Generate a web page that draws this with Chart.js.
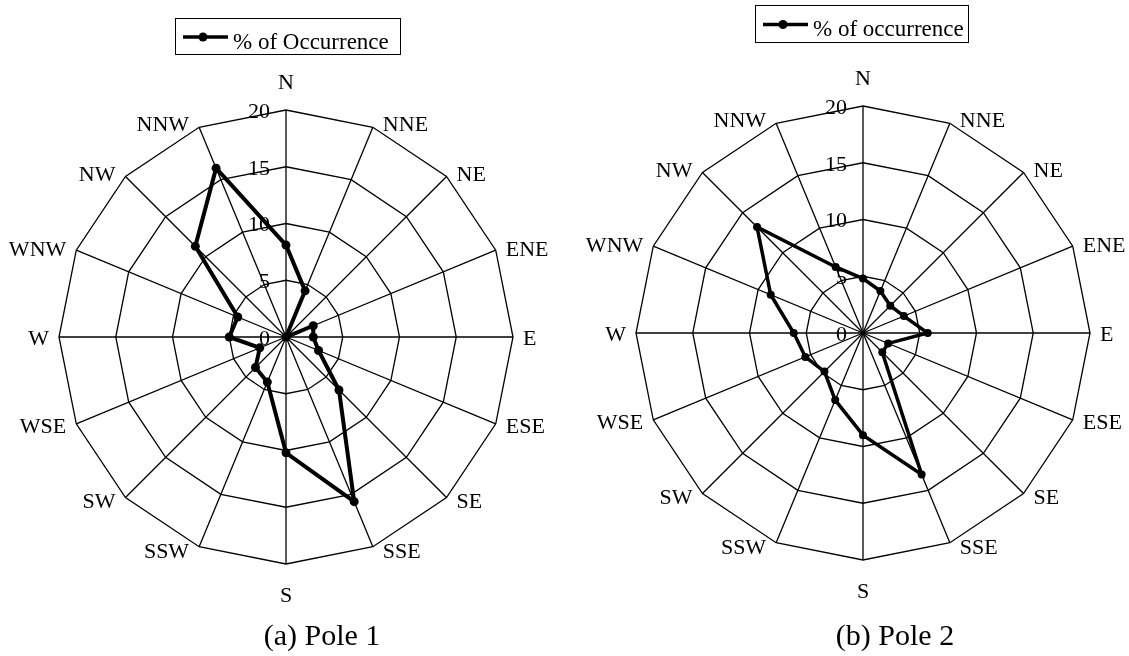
<!DOCTYPE html>
<html>
<head>
<meta charset="utf-8">
<script src="https://cdn.jsdelivr.net/npm/chart.js@4.4.1/dist/chart.umd.min.js"></script>
<style>
  html, body { margin: 0; padding: 0; background: #fff; }
  body { width: 1129px; height: 656px; position: relative; overflow: hidden; }
  canvas { position: absolute; top: 0; }
  #pole1 { left: 0; }
  #pole2 { left: 564px; }
</style>
</head>
<body>
<canvas id="pole1" width="564" height="656"></canvas>
<canvas id="pole2" width="565" height="656"></canvas>
<script>
const directions = ['N', 'NNE', 'NE', 'ENE', 'E', 'ESE', 'SE', 'SSE',
                    'S', 'SSW', 'SW', 'WSE', 'W', 'WNW', 'NW', 'NNW'];
const pole1Occurrence = [8.1, 4.4, 0, 2.6, 2.4, 3.1, 6.6, 15.7, 10.2, 4.3, 3.8, 2.5, 5.0, 4.6, 11.3, 16.1];
const pole2Occurrence = [4.8, 4.0, 3.4, 3.9, 5.7, 2.4, 2.4, 13.5, 9.0, 6.4, 4.8, 5.5, 6.1, 8.8, 13.2, 6.3];
const tickValues = [0, 5, 10, 15, 20];

const FONT = '"Liberation Serif", "Times New Roman", serif';

// labels, ticks, legend box and caption drawn the way the original (Excel) figure does
const roseText = {
  id: 'roseText',
  beforeDatasetsDraw(chart, args, opts) {
    const scale = chart.scales.r;
    const ctx = chart.ctx;
    ctx.save();
    ctx.fillStyle = '#000';
    ctx.font = '22px ' + FONT;

    // value ticks, right of them the N axis
    ctx.textAlign = 'right';
    ctx.textBaseline = 'middle';
    tickValues.forEach(v => {
      const d = scale.getDistanceFromCenterForValue(v);
      ctx.fillText(String(v), scale.xCenter - 16, scale.yCenter - d + 2);
    });

    // direction labels
    chart.data.labels.forEach((lab, i) => {
      const pos = scale.getPointPosition(i, scale.drawingArea);
      const ang = scale.getIndexAngle(i);
      const deg = Math.round(ang * 180 / Math.PI) % 360;
      let x = pos.x, y = pos.y;
      if (deg === 0) {
        ctx.textAlign = 'center'; y -= 27;
      } else if (deg === 180) {
        ctx.textAlign = 'center'; y += 32;
      } else if (deg < 180) {
        ctx.textAlign = 'left'; x += 10; y += 2 - 4 * Math.cos(ang);
      } else {
        ctx.textAlign = 'right'; x -= 10; y += 2 - 4 * Math.cos(ang);
      }
      ctx.fillText(lab, x, y);
    });
    ctx.restore();
  },
  afterDraw(chart, args, opts) {
    const ctx = chart.ctx;
    const b = opts.box;
    ctx.save();
    // legend
    ctx.strokeStyle = '#000';
    ctx.lineWidth = 1;
    ctx.strokeRect(b.x + 0.5, b.y + 0.5, b.w, b.h);
    const ly = b.y + b.h / 2 + 1;
    ctx.lineWidth = 3.5;
    ctx.beginPath();
    ctx.moveTo(b.x + 8, ly);
    ctx.lineTo(b.x + 53, ly);
    ctx.stroke();
    ctx.fillStyle = '#000';
    ctx.beginPath();
    ctx.arc(b.x + 28, ly, 4.5, 0, Math.PI * 2);
    ctx.fill();
    ctx.font = '23px ' + FONT;
    ctx.textAlign = 'left';
    ctx.textBaseline = 'alphabetic';
    ctx.fillText(opts.legendText, b.x + 58, b.y + 30.5);
    // caption under the rose
    ctx.font = '30px ' + FONT;
    ctx.textAlign = 'center';
    ctx.fillText(opts.caption, opts.captionX, 645);
    ctx.restore();
  }
};

function makeRose(id, values, legendText, caption, captionX, box, padding, lineW, dotR) {
  return new Chart(document.getElementById(id), {
    type: 'radar',
    data: {
      labels: directions,
      datasets: [{
        label: legendText,
        data: values,
        borderColor: '#000',
        backgroundColor: '#000',
        borderWidth: lineW,
        fill: false,
        pointRadius: dotR,
        pointBackgroundColor: '#000',
        pointBorderColor: '#000',
        pointBorderWidth: 0,
        tension: 0
      }]
    },
    options: {
      responsive: false,
      animation: false,
      layout: { padding: padding },
      plugins: {
        legend: { display: false },
        tooltip: { enabled: false },
        roseText: { legendText, caption, captionX, box }
      },
      scales: {
        r: {
          min: 0,
          max: 20,
          ticks: { stepSize: 5, display: false },
          pointLabels: { display: false },
          grid: { color: '#000', lineWidth: 1.3 },
          angleLines: { color: '#000', lineWidth: 1.3 }
        }
      }
    },
    plugins: [roseText]
  });
}

makeRose('pole1', pole1Occurrence, '% of Occurrence', '(a) Pole 1', 322,
  { x: 175, y: 18, w: 225, h: 36 },
  { left: 59, right: 51, top: 110, bottom: 92 }, 4, 4.5);

makeRose('pole2', pole2Occurrence, '% of occurrence', '(b) Pole 2', 331,
  { x: 191, y: 5, w: 213, h: 37 },
  { left: 72, right: 39, top: 106, bottom: 96 }, 3.5, 4);
</script>
</body>
</html>
